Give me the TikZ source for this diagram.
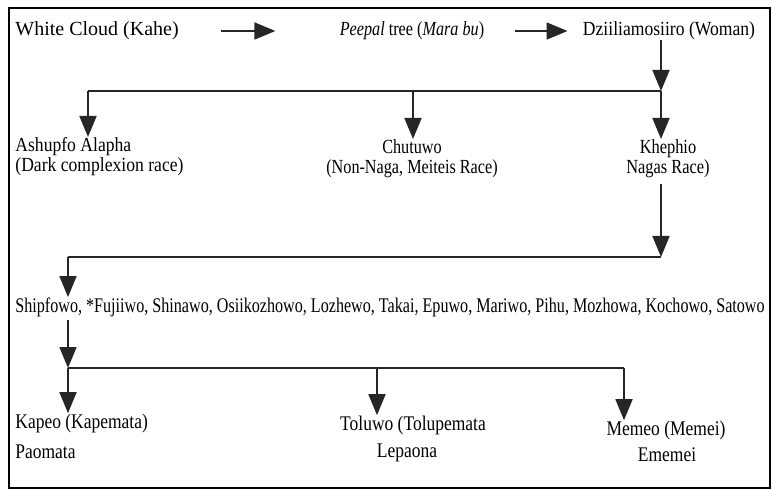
\documentclass[tikz,border=0pt]{standalone}
\usepackage{fontspec}
\setmainfont{Liberation Serif}
\usepackage{graphicx}
\usetikzlibrary{arrows.meta, positioning, calc}

\newcommand{\narrowtext}[2][0.84]{\scalebox{#1}[1]{#2}}

\begin{document}
\begin{tikzpicture}[
    x=0.5pt, y=-0.5pt,
    label/.style={inner sep=0pt, align=center, font=\fontsize{10}{10}\selectfont},
    narrow/.style={inner sep=0pt, font=\fontsize{10.4}{12}\selectfont},
    relation/.style={-{Triangle[length=10.5pt, width=8.5pt]}, line width=0.9pt, black!85},
    branch/.style={line width=0.9pt, black!85}
]

\useasboundingbox (0,0) rectangle (772,492);
\draw[line width=0.8pt] (9,8) rectangle (770,488);

% first row
\node[label, anchor=west] (kahe) at (15,31) {White Cloud (Kahe)};
\node[label] (peepal) at (412,31) {\narrowtext[0.81]{\textit{Peepal} tree (\textit{Mara bu})}};
\node[label] (woman) at (669,31) {\narrowtext[0.88]{Dziiliamosiiro (Woman)}};
\draw[relation, shorten <=21pt, shorten >=32pt] (kahe) -- (peepal);
\draw[relation, shorten <=15pt, shorten >=7.5pt] (peepal) -- (woman);

% races
\coordinate (raceTurn) at (661,91);
\coordinate (ashupfoTop) at (88,91);
\coordinate (chutuwoTop) at (413,91);
\node[label, anchor=north west] (ashupfo) at (15,137) {\narrowtext[0.88]{\begin{tabular}{@{}l@{}}Ashupfo Alapha\\(Dark complexion race)\end{tabular}}};
\node[label, anchor=north] (chutuwo) at (412,139) {\narrowtext[0.81]{\begin{tabular}{@{}c@{}}Chutuwo\\(Non-Naga, Meiteis Race)\end{tabular}}};
\node[label, anchor=north] (khephio) at (668,139) {\narrowtext[0.82]{\begin{tabular}{@{}c@{}}Khephio\\Nagas Race)\end{tabular}}};
\draw[relation] (woman.south -| raceTurn) -- (raceTurn);
\draw[branch] (ashupfoTop) -- (raceTurn);
\draw[relation] (ashupfoTop) -- (ashupfoTop |- ashupfo.north);
\draw[relation] (chutuwoTop) -- (chutuwoTop |- chutuwo.north);
\draw[relation] (raceTurn) -- (raceTurn |- khephio.north);

% clans
\coordinate (nagaTurn) at (661,257);
\coordinate (clanTop) at (68,257);
\node[narrow, anchor=west] (clans) at (15,307) {\narrowtext[0.775]{Shipfowo, *Fujiiwo, Shinawo, Osiikozhowo, Lozhewo, Takai, Epuwo, Mariwo, Pihu, Mozhowa, Kochowo, Satowo}};
\draw[relation, shorten <=2pt] (khephio.south -| nagaTurn) -- (nagaTurn);
\draw[branch] (clanTop) -- (nagaTurn);
\draw[relation] (clanTop) -- (clanTop |- clans.north);

% descendants
\coordinate (lineTurn) at (68,368);
\coordinate (toluwoTop) at (377,368);
\coordinate (memeoTop) at (624,368);
\node[narrow, anchor=west] (kapeo) at (15,423) {\narrowtext{Kapeo (Kapemata)}};
\node[narrow, anchor=west] (paomata) at (15,452) {\narrowtext{Paomata}};
\node[narrow] (toluwo) at (413,425) {\narrowtext{Toluwo (Tolupemata}};
\node[narrow] (lepaona) at (407,453) {\narrowtext{Lepaona}};
\node[narrow] (memeo) at (666,430) {\narrowtext{Memeo (Memei)}};
\node[narrow] (ememei) at (667,455) {\narrowtext{Ememei}};
\draw[relation, shorten <=1.5pt] (clans.south -| lineTurn) -- (lineTurn);
\draw[branch] (lineTurn) -- (memeoTop);
\draw[relation] (lineTurn) -- (lineTurn |- kapeo.north);
\draw[relation] (toluwoTop) -- (toluwoTop |- toluwo.north);
\draw[relation] (memeoTop) -- (memeoTop |- memeo.north);

\end{tikzpicture}
\end{document}
